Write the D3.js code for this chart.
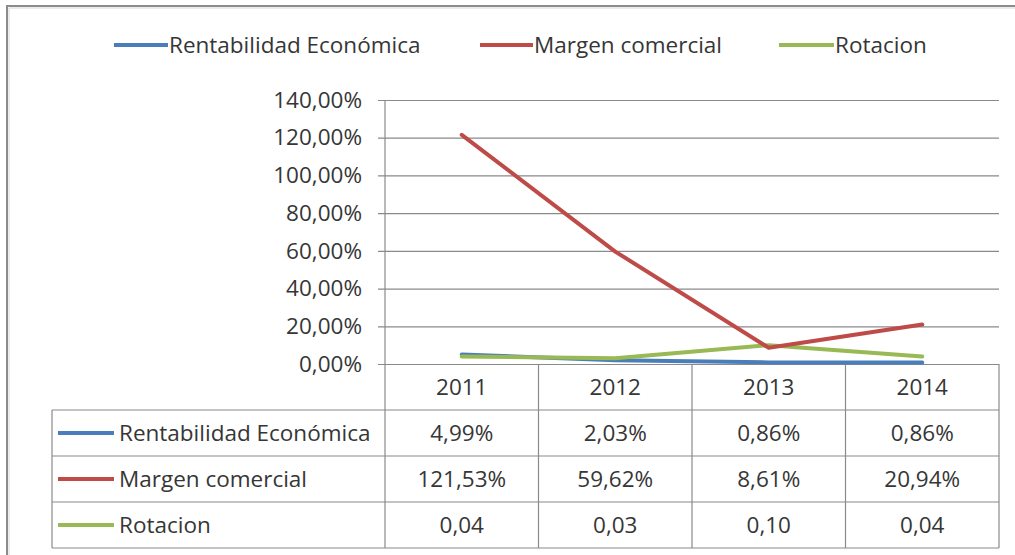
<!DOCTYPE html>
<html>
<head>
<meta charset="utf-8">
<script src="https://cdn.jsdelivr.net/npm/d3@7"></script>
<style>
  html, body { margin: 0; padding: 0; background: #fff; }
  svg { display: block; }
  text { font-family: "Open Sans", Lato, sans-serif; fill: #363636; }
</style>
</head>
<body>
<script>
// ---- data ----
const years = ["2011", "2012", "2013", "2014"];
const seriesNames = ["Rentabilidad Económica", "Margen comercial", "Rotacion"];
const rentabilidad = [0.0499, 0.0203, 0.0086, 0.0086];
const margen = [1.2153, 0.5962, 0.0861, 0.2094];
const rotacion = [0.04, 0.03, 0.10, 0.04];
const tableLabels = [
  ["4,99%", "2,03%", "0,86%", "0,86%"],
  ["121,53%", "59,62%", "8,61%", "20,94%"],
  ["0,04", "0,03", "0,10", "0,04"]
];
const yTicks = [0, 0.2, 0.4, 0.6, 0.8, 1.0, 1.2, 1.4];
const colors = ["#4a7ebb", "#be4b48", "#98b954"];

const W = 1015, H = 555;
const FS = 22.5;
const svg = d3.select("body").append("svg").attr("width", W).attr("height", H);

// frame
svg.append("path").attr("d", "M7,555 V6 H1015").attr("fill", "none")
  .attr("stroke", "#8c8c8c").attr("stroke-width", 2);
svg.append("path").attr("d", "M9,555 V8 H1015").attr("fill", "none")
  .attr("stroke", "#d8d8d8").attr("stroke-width", 1);

const plotL = 385, plotR = 999, plotT = 100, plotB = 364;
const x = d3.scaleBand().domain(years).range([plotL, plotR]);
const y = d3.scaleLinear().domain([0, 1.4]).range([plotB, plotT]);

// gridlines + y axis
const yAxis = d3.axisLeft(y).tickValues(yTicks).tickSize(-(plotR - plotL)).tickSizeOuter(0)
  .tickFormat(d => d3.format(".2f")(d * 100).replace(".", ",") + "%");
const gy = svg.append("g").attr("transform", `translate(${plotL},0)`).call(yAxis);
gy.select(".domain").remove();
gy.selectAll(".tick line").attr("stroke", "#8a8a8a").attr("stroke-width", 1.2).attr("x1", -7);
gy.selectAll(".tick text").attr("x", -23).attr("font-size", FS).attr("fill", "#363636")
  .style("font-family", "'Open Sans', sans-serif");
svg.append("line").attr("x1", plotL).attr("x2", plotL).attr("y1", plotT).attr("y2", plotB)
  .attr("stroke", "#8a8a8a").attr("stroke-width", 1.2);

// table
const rows = d3.scaleBand().domain(["header"].concat(seriesNames)).range([plotB, 548]);
const tableL = 52;
const tg = svg.append("g");
const lineStyle = sel => sel.attr("stroke", "#8a8a8a").attr("stroke-width", 1.2).attr("fill", "none");
seriesNames.forEach(n => {
  tg.append("line").attr("x1", tableL).attr("x2", plotR)
    .attr("y1", rows(n)).attr("y2", rows(n)).call(lineStyle);
});
tg.append("line").attr("x1", tableL).attr("x2", plotR)
  .attr("y1", rows.range()[1]).attr("y2", rows.range()[1]).call(lineStyle);
years.forEach(yr => {
  tg.append("line").attr("x1", x(yr)).attr("x2", x(yr))
    .attr("y1", plotB).attr("y2", rows.range()[1]).call(lineStyle);
});
tg.append("line").attr("x1", plotR).attr("x2", plotR)
  .attr("y1", plotB).attr("y2", rows.range()[1]).call(lineStyle);
tg.append("line").attr("x1", tableL).attr("x2", tableL)
  .attr("y1", rows(seriesNames[0])).attr("y2", rows.range()[1]).call(lineStyle);
years.forEach(yr => {
  tg.append("text").attr("x", x(yr) + x.bandwidth() / 2)
    .attr("y", rows("header") + rows.bandwidth() / 2).attr("dy", "0.36em")
    .attr("text-anchor", "middle").attr("font-size", FS).text(yr);
});
seriesNames.forEach((n, i) => {
  const cy = rows(n) + rows.bandwidth() / 2;
  tg.append("line").attr("x1", 58).attr("x2", 114).attr("y1", cy).attr("y2", cy)
    .attr("stroke", colors[i]).attr("stroke-width", 4);
  tg.append("text").attr("x", 119).attr("y", cy).attr("dy", "0.36em")
    .attr("font-size", FS).text(n);
  years.forEach((yr, j) => {
    tg.append("text").attr("x", x(yr) + x.bandwidth() / 2).attr("y", cy).attr("dy", "0.36em")
      .attr("text-anchor", "middle").attr("font-size", FS).text(tableLabels[i][j]);
  });
});

// lines
const allSeries = [rentabilidad, margen, rotacion];
const line = d3.line()
  .x((d, i) => x(years[i]) + x.bandwidth() / 2)
  .y(d => y(d));
[0, 2, 1].forEach(i => {
  svg.append("path").datum(allSeries[i]).attr("d", line)
    .attr("fill", "none").attr("stroke", colors[i]).attr("stroke-width", 4)
    .attr("stroke-linecap", "round").attr("stroke-linejoin", "round");
});

// legend
const legendItems = [
  { name: seriesNames[0], x0: 114, x1: 168 },
  { name: seriesNames[1], x0: 480, x1: 533 },
  { name: seriesNames[2], x0: 779, x1: 834 }
];
const lg = svg.append("g");
legendItems.forEach((d, i) => {
  lg.append("line").attr("x1", d.x0).attr("x2", d.x1).attr("y1", 45).attr("y2", 45)
    .attr("stroke", colors[i]).attr("stroke-width", 4);
  lg.append("text").attr("x", d.x1 + 1).attr("y", 45).attr("dy", "0.36em")
    .attr("font-size", FS).text(d.name);
});
</script>
</body>
</html>
